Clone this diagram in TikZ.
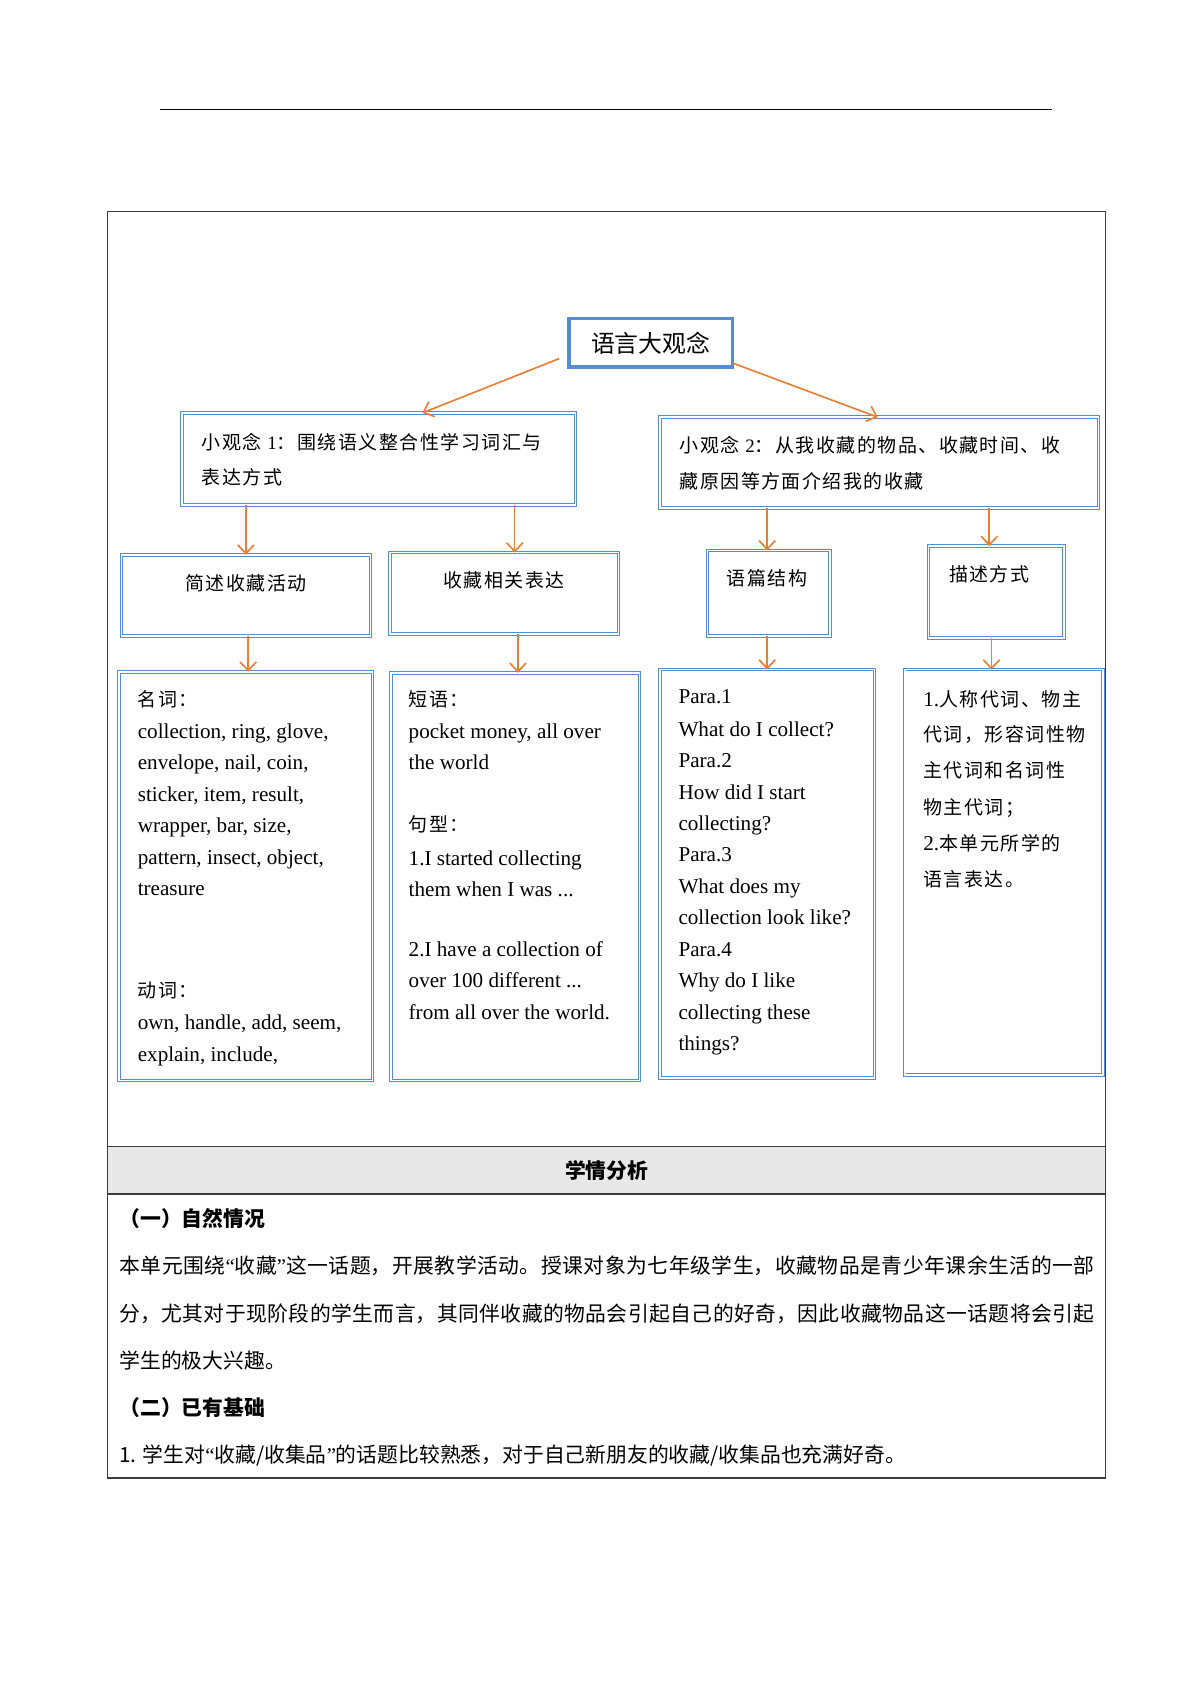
\documentclass[tikz,border=0pt]{standalone}
\usepackage{fontspec}
\setmainfont{Liberation Serif}
\newfontfamily\cjk{Noto Sans CJK SC}
\newfontfamily\kai{Noto Sans CJK SC}[LetterSpace=8]
\usetikzlibrary{arrows.meta}
\definecolor{bblue}{RGB}{84,141,212}
\definecolor{aorange}{RGB}{237,125,49}
\definecolor{hgray}{RGB}{232,232,232}
\definecolor{frame}{RGB}{60,60,60}
\XeTeXlinebreaklocale "zh"
\XeTeXlinebreakskip=0pt plus 1pt
\newcommand\myLQ{{\rmfamily “}}
\newcommand\myRQ{{\rmfamily ”}}
\newcommand\fullline[1]{\rightskip=0pt\leftskip=0pt\parfillskip=0pt\relax\noindent #1\par}
\tikzset{
  dbox/.style={draw=bblue, double=white, double distance=1.4pt, line width=0.9pt,
    anchor=north west, inner sep=0pt, outer sep=0pt},
  mainbox/.style={draw=bblue, line width=3.5pt, anchor=north west, inner sep=0pt, outer sep=0pt},
  arr/.style={draw=aorange, line width=1.5pt, -{Straight Barb[length=8pt,width=15pt]}},
  tx/.style={anchor=base west, inner sep=0pt, font=\fontsize{19.5}{23}\selectfont},
  kt/.style={anchor=base west, inner sep=0pt, font=\fontsize{17.5}{21}\selectfont\kai},
  ktc/.style={kt, anchor=base},
  para/.style={anchor=base west, inner sep=0pt, font=\fontsize{19.2}{23}\selectfont\cjk},
  jpara/.style={para, text width=900pt, align=justify},
  head/.style={anchor=base west, inner sep=0pt, font=\fontsize{19.2}{23}\selectfont\cjk\bfseries},
}
\begin{document}
\begin{tikzpicture}[x=1pt,y=-1pt]
\useasboundingbox (0,0) rectangle (1107.5,1566.2);
% top rule
\draw[line width=1.5pt] (148,101) -- (971,101);
% table frame
\fill[hgray] (99,1058) rectangle (1020,1102);
\draw[frame, line width=1.2pt] (99,195) rectangle (1020,1364);
\draw[frame, line width=1.2pt] (99,1058) -- (1020,1058);
\draw[frame, line width=1.2pt] (99,1102) -- (1020,1102);

% boxes
\node[mainbox, minimum width=151pt, minimum height=45pt, font=\fontsize{22}{26}\selectfont\cjk] (main) at (525,294) {语言大观念};
\node[dbox, minimum width=363pt, minimum height=85pt] (b1) at (168,381) {};
\node[dbox, minimum width=405pt, minimum height=84pt] (b2) at (609,385) {};
\node[dbox, minimum width=230pt, minimum height=75pt] (c1) at (112,512) {};
\node[dbox, minimum width=211pt, minimum height=75pt] (c2) at (360,510) {};
\node[dbox, minimum width=113pt, minimum height=79pt] (c3) at (653,508) {};
\node[dbox, minimum width=125pt, minimum height=85pt] (c4) at (857,504) {};
\node[dbox, minimum width=234pt, minimum height=377pt] (d1) at (110,620) {};
\node[dbox, minimum width=229pt, minimum height=376pt] (d2) at (361,621) {};
\node[dbox, minimum width=198pt, minimum height=377pt] (d3) at (609,618) {};
\node[dbox, minimum width=183pt, minimum height=374pt] (d4) at (835,618) {};

% arrows
\draw[arr] ([shift={(-9,14.5)}]main.west) -- ([shift={(222,0)}]b1.north west);
\draw[arr] ([shift={(0,18.5)}]main.east) -- ([shift={(201,0)}]b2.north west);
\draw[arr] (c1.north |- b1.south) -- (c1.north);
\coordinate (c2t) at ([shift={(9.5,0)}]c2.north);
\draw[arr] (c2t |- b1.south) -- (c2t);
\coordinate (c3t) at ([shift={(-1.5,0)}]c3.north);
\draw[arr] (c3t |- b2.south) -- (c3t);
\coordinate (c4t) at ([shift={(-6.5,0)}]c4.north);
\draw[arr] (c4t |- b2.south) -- (c4t);
\coordinate (d1t) at ([shift={(2,0)}]d1.north);
\draw[arr] (d1t |- c1.south) -- (d1t);
\coordinate (d2t) at ([shift={(2.5,0)}]d2.north);
\draw[arr] (d2t |- c2.south) -- (d2t);
\draw[arr] (d3.north |- c3.south) -- (d3.north);
\coordinate (d4t) at ([shift={(-11.5,0)}]d4.north);
\draw[arr] (d4t |- c4.south) -- (d4t);

% level 2 texts
\node[kt] (b1l1) at (186,414.6) {小观念 {\rmfamily 1}：围绕语义整合性学习词汇与};
\node[kt] (b1l2) at (186,447.6) {表达方式};
\node[kt] (b2l1) at (627,417.6) {小观念 {\rmfamily 2}：从我收藏的物品、收藏时间、收};
\node[kt] (b2l2) at (627,450.6) {藏原因等方面介绍我的收藏};
% level 3 texts
\node[ktc] (c1t) at (227,544.6) {简述收藏活动};
\node[ktc] (c2tx) at (465,542.6) {收藏相关表达};
\node[ktc] (c3tx) at (708,540.6) {语篇结构};
\node[ktc] (c4tx) at (913,536.6) {描述方式};

% box d1
\node[kt] (a0) at (127,651.6) {名词：};
\node[tx] (a1) at (127,681.5) {collection, ring, glove,};
\node[tx] (a2) at (127,710.5) {envelope, nail, coin,};
\node[tx] (a3) at (127,739.5) {sticker, item, result,};
\node[tx] (a4) at (127,768.5) {wrapper, bar, size,};
\node[tx] (a5) at (127,797.5) {pattern, insect, object,};
\node[tx] (a6) at (127,826.5) {treasure};
\node[kt] (a7) at (127,920.6) {动词：};
\node[tx] (a8) at (127,950.5) {own, handle, add, seem,};
\node[tx] (a9) at (127,979.5) {explain, include,};

% box d2
\node[kt] (p0) at (377,651.6) {短语：};
\node[tx] (p1) at (377,681.5) {pocket money, all over};
\node[tx] (p2) at (377,710.5) {the world};
\node[kt] (p3) at (377,767.6) {句型：};
\node[tx] (p4) at (377,798.5) {1.I started collecting};
\node[tx] (p5) at (377,827.5) {them when I was ...};
\node[tx] (p6) at (377,882.5) {2.I have a collection of};
\node[tx] (p7) at (377,911.5) {over 100 different ...};
\node[tx] (p8) at (377,940.5) {from all over the world.};

% box d3
\node[tx] (q1) at (626,649.5) {Para.1};
\node[tx] (q2) at (626,679.5) {What do I collect?};
\node[tx] (q3) at (626,708.5) {Para.2};
\node[tx] (q4) at (626,737.5) {How did I start};
\node[tx] (q5) at (626,766.5) {collecting?};
\node[tx] (q6) at (626,795.5) {Para.3};
\node[tx] (q7) at (626,824.5) {What does my};
\node[tx] (q8) at (626,853.5) {collection look like?};
\node[tx] (q9) at (626,882.5) {Para.4};
\node[tx] (q10) at (626,911.5) {Why do I like};
\node[tx] (q11) at (626,940.5) {collecting these};
\node[tx] (q12) at (626,969.5) {things?};

% box d4
\node[kt] (r1) at (852,651.6) {{\rmfamily\fontsize{19.5}{23}\selectfont 1.}人称代词、物主};
\node[kt] (r2) at (852,684.6) {代词，形容词性物};
\node[kt] (r3) at (852,717.6) {主代词和名词性};
\node[kt] (r4) at (852,751.6) {物主代词；};
\node[kt] (r5) at (852,784.6) {{\rmfamily\fontsize{19.5}{23}\selectfont 2.}本单元所学的};
\node[kt] (r6) at (852,818.6) {语言表达。};

% lower table text
\node[font=\fontsize{19.2}{23}\selectfont\cjk\bfseries] (hdr) at (560,1080) {学情分析};
\node[head] (h1) at (110,1132.3) {（一）自然情况};
\node[jpara] (l1) at (110,1175.3) {\fullline{本单元围绕\myLQ 收藏\myRQ 这一话题，开展教学活动。授课对象为七年级学生，收藏物品是青少年课余生活的一部}};
\node[jpara] (l2) at (110,1219.3) {\fullline{分，尤其对于现阶段的学生而言，其同伴收藏的物品会引起自己的好奇，因此收藏物品这一话题将会引起}};
\node[para] (l3) at (110,1263.3) {学生的极大兴趣。};
\node[head] (h2) at (110,1306.3) {（二）已有基础};
\node[para] (l4) at (110,1349.3) {1. 学生对\myLQ 收藏/收集品\myRQ 的话题比较熟悉，对于自己新朋友的收藏/收集品也充满好奇。};
\end{tikzpicture}
\end{document}
